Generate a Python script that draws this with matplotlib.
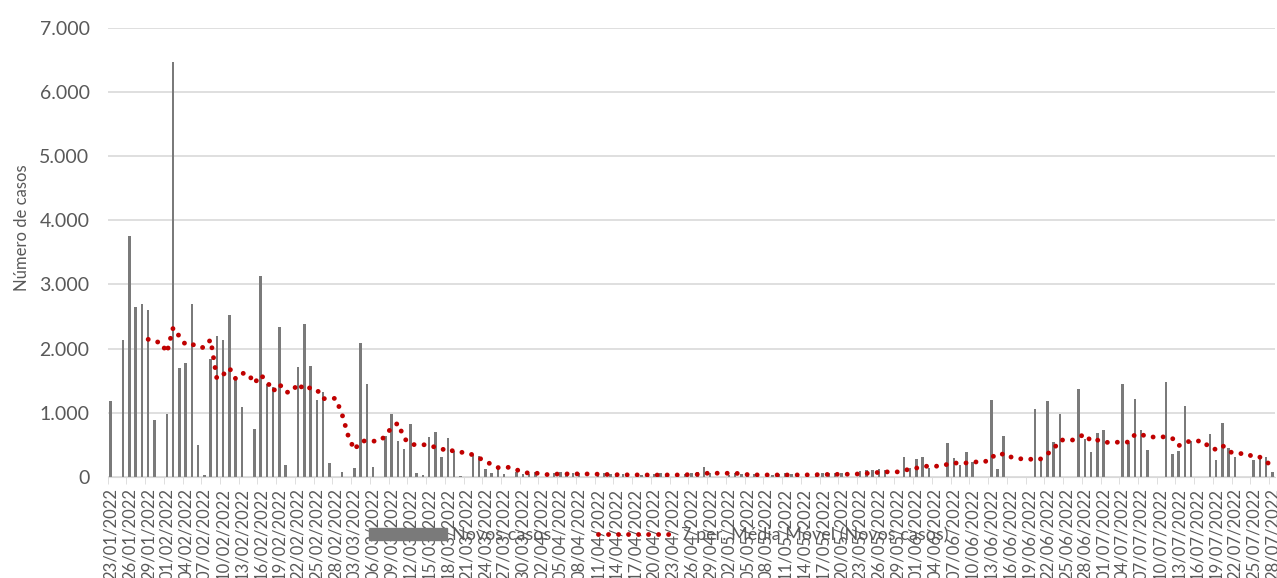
import pandas as pd
import matplotlib
matplotlib.use("Agg")
import matplotlib.pyplot as plt
from matplotlib.patches import Patch
from matplotlib.lines import Line2D

# daily new cases, starting 23/01/2022
start_date = "2022-01-23"
novos_casos = [
    1180, 0, 2140, 3750, 2640, 2690, 2600, 890, 0, 980,
    6470, 1690, 1780, 2690, 490, 20, 1830, 2190, 2130, 2520,
    1520, 1080, 0, 740, 3130, 1450, 1400, 2330, 180, 0,
    1710, 2390, 1730, 1190, 1320, 210, 0, 80, 0, 130,
    2090, 1440, 145, 0, 635, 980, 555, 425, 815, 60,
    20, 615, 700, 310, 600, 405, 15, 0, 340, 330,
    115, 50, 145, 40, 0, 80, 40, 40, 70, 0,
    0, 60, 75, 55, 60, 50, 0, 0, 30, 55,
    45, 40, 35, 0, 0, 20, 45, 40, 50, 35,
    0, 0, 40, 60, 70, 155, 60, 0, 0, 30,
    50, 45, 40, 35, 0, 0, 20, 45, 50, 40,
    45, 0, 0, 45, 60, 55, 50, 60, 0, 0,
    90, 100, 110, 115, 110, 0, 0, 305, 130, 280,
    305, 130, 0, 0, 520, 290, 185, 380, 235, 0,
    0, 1195, 120, 640, 0, 0, 0, 0, 1050, 265,
    1175, 540, 975, 0, 0, 1370, 590, 380, 685, 725,
    0, 0, 1450, 525, 1215, 725, 420, 0, 0, 1475,
    360, 395, 1105, 560, 0, 0, 665, 265, 840, 450,
    305, 0, 0, 255, 290, 315, 80,
]
y_ticks = [0, 1000, 2000, 3000, 4000, 5000, 6000, 7000]

datas = pd.date_range(start_date, periods=len(novos_casos), freq="D")
serie = pd.Series(novos_casos, index=datas)
media_movel = serie.rolling(7).mean()  # Excel "7 per. Média Móvel" trendline

plt.rcParams["font.family"] = ["Lato", "DejaVu Sans"]
cinza = "#595959"
pontilhado = (0, (0.01, 2.05))

fig = plt.figure(figsize=(12.77, 5.78), dpi=100)
ax = fig.add_axes([107.6 / 1277, 1 - 476.7 / 578, 1167.8 / 1277, 448.7 / 578])

x = list(range(len(novos_casos)))
ax.bar(x, novos_casos, width=0.4, color="#7a7a7a", zorder=2)
ax.plot(x, media_movel.values, color="#c00000", lw=3.5,
        linestyle=pontilhado, dash_capstyle="round", zorder=3)

ax.set_xlim(-0.5, len(novos_casos) - 0.5)
ax.set_ylim(0, 7000)
ax.set_yticks(y_ticks)
ax.set_yticklabels([f"{v:,}".replace(",", ".") for v in y_ticks])
ax.yaxis.grid(True, color="#d9d9d9", lw=1.2)
ax.set_axisbelow(True)

pos = x[::3]
ax.set_xticks(pos)
ax.set_xticklabels([d.strftime("%d/%m/%Y") for d in datas[::3]], rotation=90)
ax.set_xticks([p - 0.5 for p in pos], minor=True)
ax.tick_params(axis="x", which="major", length=0, pad=8, labelsize=12, labelcolor=cinza)
ax.tick_params(axis="x", which="minor", length=5, color="#d9d9d9")
ax.tick_params(axis="y", length=0, pad=13, labelsize=14, labelcolor=cinza)

for s in ["top", "right", "left"]:
    ax.spines[s].set_visible(False)
ax.spines["bottom"].set_color("#d9d9d9")

fig.text(22 / 1277, 1 - 228 / 578, "Número de casos", rotation=90,
         ha="center", va="center", fontsize=12, color=cinza)

handles = [
    Patch(color="#7a7a7a"),
    Line2D([], [], color="#c00000", lw=3.5, linestyle=pontilhado, dash_capstyle="round"),
]
fig.legend(handles, ["Novos casos", "7 per. Média Móvel (Novos casos)"],
           loc="center", bbox_to_anchor=(659 / 1277, 1 - 535 / 578), ncol=2,
           frameon=False, fontsize=13, labelcolor=cinza, handlelength=4.3,
           handletextpad=0.3, columnspacing=2.6)

fig.savefig("out.png", dpi=100)
